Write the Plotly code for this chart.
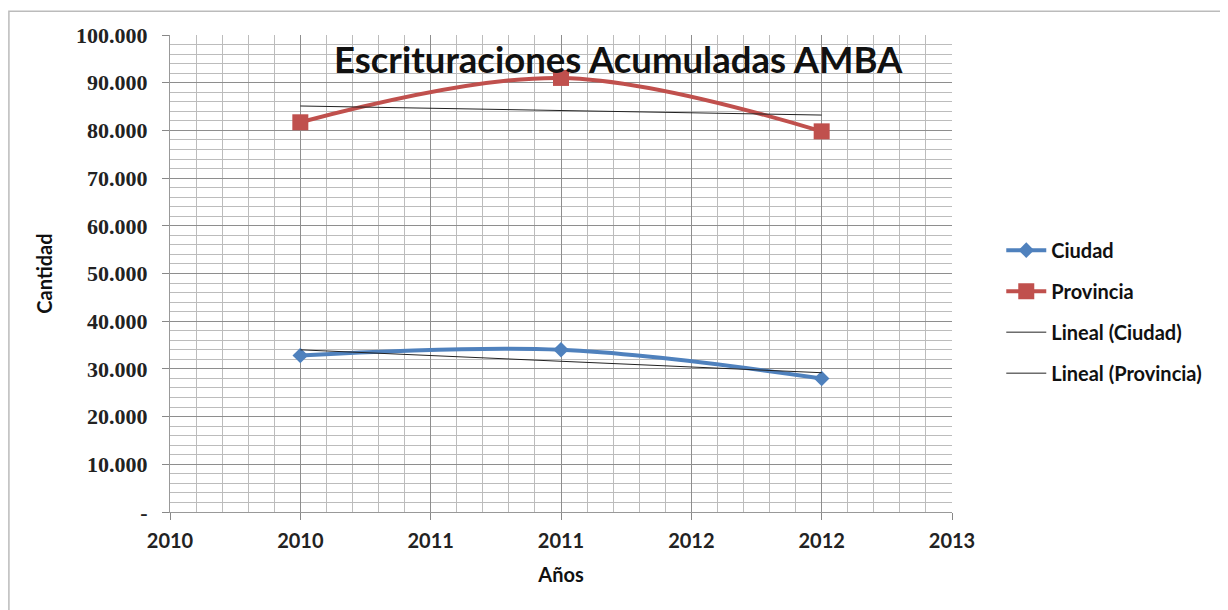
import numpy as np
import plotly.graph_objects as go

years = [2010, 2011, 2012]
ciudad = [32800, 34000, 28000]
provincia = [81700, 91000, 79800]
x_tick_vals = [2009.5, 2010, 2010.5, 2011, 2011.5, 2012, 2012.5]
x_tick_text = ["2010", "2010", "2011", "2011", "2012", "2012", "2013"]
y_tick_vals = [0, 10000, 20000, 30000, 40000, 50000, 60000, 70000, 80000, 90000, 100000]
y_tick_text = ["-", "10.000", "20.000", "30.000", "40.000", "50.000", "60.000",
               "70.000", "80.000", "90.000", "100.000"]

def trend(vals):
    m, b = np.polyfit(years, vals, 1)
    return [m * x + b for x in years]

fig = go.Figure()
fig.add_trace(go.Scatter(x=years, y=ciudad, name="Ciudad", mode="lines+markers", legendgroup="a",
                         line=dict(color="#4F81BD", width=4, shape="spline", smoothing=1.0),
                         marker=dict(symbol="diamond", size=12, color="#4F81BD")))
fig.add_trace(go.Scatter(x=years, y=provincia, name="Provincia", mode="lines+markers", legendgroup="b",
                         line=dict(color="#C0504D", width=4, shape="spline", smoothing=1.0),
                         marker=dict(symbol="square", size=16, color="#C0504D")))
fig.add_trace(go.Scatter(x=years, y=trend(ciudad), name="Lineal (Ciudad)", mode="lines", legendgroup="c",
                         line=dict(color="#222222", width=1)))
fig.add_trace(go.Scatter(x=years, y=trend(provincia), name="Lineal (Provincia)", mode="lines", legendgroup="d",
                         line=dict(color="#222222", width=1)))

fig.update_layout(
    width=1228, height=610,
    margin=dict(l=162, r=284, t=27, b=106),
    paper_bgcolor="white", plot_bgcolor="white",
    font=dict(family="Lato", color="#111111"),
    showlegend=True,
    legend=dict(x=1.063, y=0.42, xanchor="left", yanchor="middle",
                font=dict(family="Lato", size=20, color="#111111", weight="bold"),
                tracegroupgap=12, itemwidth=40),
    annotations=[dict(text="<b>Escrituraciones Acumuladas AMBA</b>", x=0.573, y=1.0,
                      xref="paper", yref="paper", xanchor="center", yanchor="top",
                      showarrow=False, font=dict(family="Lato", size=36.5, color="#111111"))],
    shapes=[dict(type="rect", xref="paper", yref="paper", x0=-0.206, x1=1.4, y0=-0.4, y1=1.050,
                 line=dict(color="#bbbbbb", width=1.5), layer="below")],
)
fig.update_xaxes(range=[2009.5, 2012.5], tickvals=x_tick_vals, ticktext=x_tick_text,
                 showgrid=True, gridcolor="#8e8e8e", gridwidth=1,
                 minor=dict(dtick=0.1, tick0=2009.5, showgrid=True, gridcolor="#bcbcbc", gridwidth=1),
                 ticks="outside", ticklen=7, tickcolor="#888888", ticklabelstandoff=4,
                 showline=True, linecolor="#999999", linewidth=1, zeroline=False,
                 tickfont=dict(family="Lato", size=20, color="#222222", weight="bold"),
                 title=dict(text="Años", font=dict(family="Lato", size=20, color="#111111", weight="bold"), standoff=16))
fig.update_yaxes(range=[0, 100000], tickvals=y_tick_vals, ticktext=y_tick_text,
                 showgrid=True, gridcolor="#8e8e8e", gridwidth=1,
                 minor=dict(dtick=2000, showgrid=True, gridcolor="#bcbcbc", gridwidth=1),
                 ticks="outside", ticklen=7, tickcolor="#888888", ticklabelstandoff=10,
                 showline=True, linecolor="#999999", linewidth=1, zeroline=False,
                 tickfont=dict(family="Liberation Serif", size=22, color="#222222", weight="bold"),
                 title=dict(text="Cantidad", font=dict(family="Lato", size=20, color="#111111", weight="bold"), standoff=18))

fig.write_html("out.html")
